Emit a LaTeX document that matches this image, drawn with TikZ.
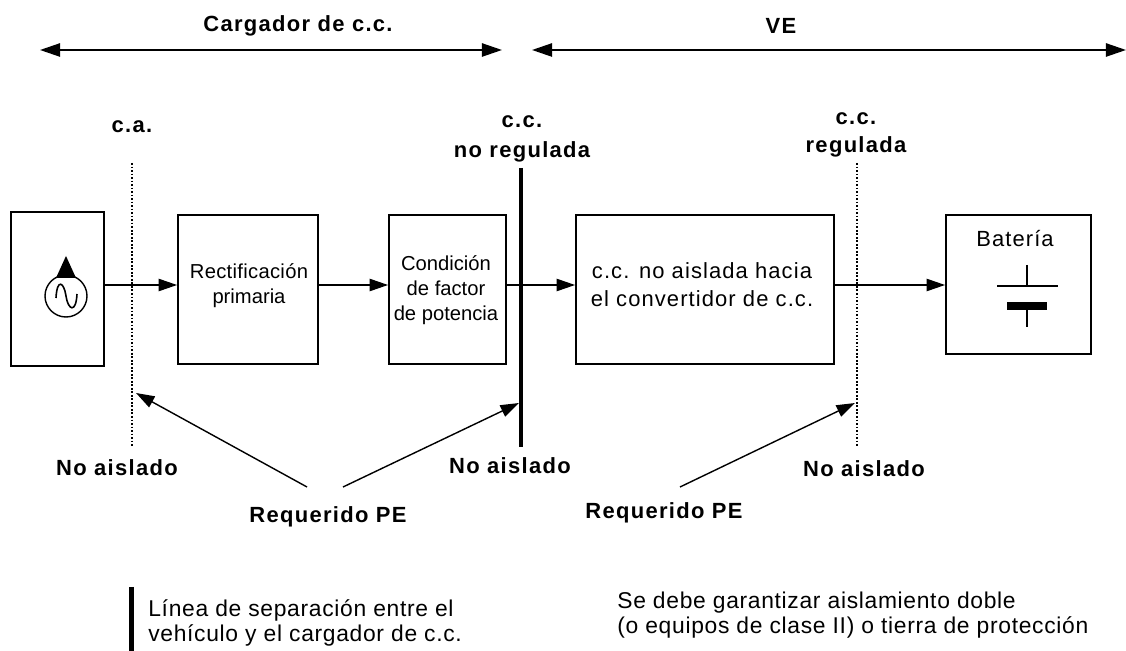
\documentclass[tikz,border=0pt]{standalone}
\usepackage{fontspec}
\setmainfont{Liberation Sans}
\usetikzlibrary{arrows.meta}
\tikzset{
  caja/.style={draw=black,line width=1.05pt,inner sep=0pt,align=center},
  flecha/.style={line width=0.8pt,-{Triangle[length=10.5pt,width=7pt]}},
  doble/.style={line width=1.1pt,{Triangle[length=11.4pt,width=7.5pt]}-{Triangle[length=11.4pt,width=7.5pt]}},
  punteada/.style={line width=1pt,densely dotted},
  texto/.style={font=\fontsize{11.5}{14.2}\selectfont,align=center,inner sep=0pt},
  grande/.style={font=\fontsize{12.5}{16}\selectfont\addfontfeature{LetterSpace=5},align=center,inner sep=0pt},
  etiqueta/.style={font=\fontsize{12.5}{16}\selectfont\bfseries\addfontfeature{LetterSpace=6},align=center,inner sep=0pt},
  leyenda/.style={font=\fontsize{13}{14.6}\selectfont\addfontfeature{LetterSpace=3},align=left,anchor=west,inner sep=0pt}
}
\begin{document}
\begin{tikzpicture}[x=0.02cm,y=-0.02cm]
\useasboundingbox (0,0) rectangle (1126,651);
\coordinate (nivel) at (0,285);

\node[caja,minimum width=1.86cm,minimum height=3.08cm] (fuente) at (57.5,289) {};
\node[caja,minimum width=2.8cm,minimum height=2.98cm] (rectif) at (248,289.5) {};
\node[caja,minimum width=2.34cm,minimum height=2.98cm] (factor) at (447.5,289.5) {};
\node[caja,minimum width=5.16cm,minimum height=2.98cm] (conv) at (705,289.5) {};
\node[caja,minimum width=2.9cm,minimum height=2.78cm] (bateria) at (1018.5,284.5) {};

\node[texto] (trect) at (249,286) {\addfontfeature{LetterSpace=1.5}Rectificación\\primaria};
\node[texto] (tfact) at (446,290) {Condición\\de factor\\de potencia};
\node[grande] (tconv) at (702,285) {c.c. no aislada hacia\\el convertidor de c.c.};
\node[grande] (tbat) at (1015,239) {Batería};

\draw[flecha] (fuente.east |- nivel) -- (rectif.west |- nivel);
\draw[flecha] (rectif.east |- nivel) -- (factor.west |- nivel);
\draw[flecha] (factor.east |- nivel) -- (conv.west |- nivel);
\draw[flecha] (conv.east |- nivel) -- (bateria.west |- nivel);

% fuente de c.a.
\draw[line width=0.8pt] (66,296) circle (21);
\fill (66,256) -- (76,278) -- (56,278) -- cycle;
\draw[line width=0.9pt] (56,298) .. controls (57,278) and (64,282) .. (66,296) .. controls (68,310) and (76,314) .. (77,294);

% bateria
\draw[line width=0.8pt] (1027,265) -- (1027,286) (997,286) -- (1058,286) (1027,310) -- (1027,327);
\fill (1007,302) rectangle (1047,310);

% lineas de separacion
\coordinate (caArr) at (132,163);
\coordinate (caAba) at (132,447);
\coordinate (ccArr) at (521,168);
\coordinate (ccAba) at (521,447);
\coordinate (regArr) at (857,163);
\coordinate (regAba) at (857,447);
\draw[punteada] (caArr) -- (caAba);
\draw[line width=2.4pt] (ccArr) -- (ccAba);
\draw[punteada] (regArr) -- (regAba);

% flechas superiores
\coordinate (cargIzq) at (40,50);
\coordinate (cargDer) at (502,50);
\coordinate (veIzq) at (532,50);
\coordinate (veDer) at (1126,50);
\draw[doble] (cargIzq) -- (cargDer);
\draw[doble] (veIzq) -- (veDer);

\node[etiqueta] (tcarg) at (298,26) {Cargador de c.c.};
\node[etiqueta] (tve) at (781,26) {VE};
\node[etiqueta] (tca) at (132,127) {c.a.};
\node[etiqueta] (tnoreg) at (522,139) {c.c.\\[1pt]no regulada};
\node[etiqueta] (treg) at (856,135) {c.c.\\regulada};
\node[etiqueta] (nai) at (117,468) {No aislado};
\node[etiqueta] (naii) at (510,466) {No aislado};
\node[etiqueta] (naiii) at (864,469) {No aislado};
\node[etiqueta] (reqa) at (328,517) {Requerido PE};
\node[etiqueta] (reqb) at (664,513) {Requerido PE};

% flechas PE
\coordinate (peA) at (307,487);
\coordinate (peB) at (343,487);
\coordinate (peC) at (680,487);
\coordinate (finA) at (136,393);
\coordinate (finB) at (519,403);
\coordinate (finC) at (855,403);
\draw[flecha] (peA) -- (finA);
\draw[flecha] (peB) -- (finB);
\draw[flecha] (peC) -- (finC);

% leyenda
\coordinate (barArr) at (131.5,587);
\coordinate (barAba) at (131.5,651);
\draw[line width=2.4pt] (barArr) -- (barAba);
\node[leyenda] (sep) at (148,623) {Línea de separación entre el\\vehículo y el cargador de c.c.};
\node[leyenda] (tierra) at (617,615) {Se debe garantizar aislamiento doble\\(o equipos de clase II) o tierra de protección};
\end{tikzpicture}
\end{document}
